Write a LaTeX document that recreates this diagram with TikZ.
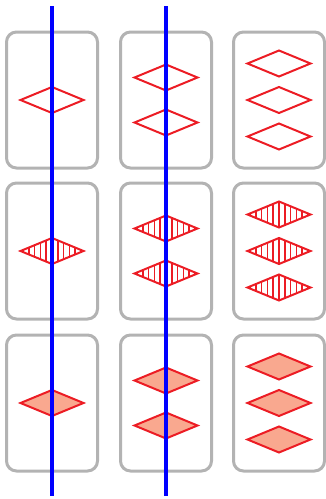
\documentclass[tikz,border=0pt]{standalone}
\definecolor{Card}{HTML}{B3B3B3}
\definecolor{Shape}{HTML}{EC1C24}
\definecolor{Shade}{HTML}{F9A88F}
\definecolor{Cut}{HTML}{0000FF}
\newcommand{\gem}[3]{%
  \ifnum#3=2
    \fill[Shade] ({#1-31.5},{#2}) -- ({#1},{#2-13}) -- ({#1+31.5},{#2}) -- ({#1},{#2+13}) -- cycle;
  \fi
  \ifnum#3=1
    \begin{scope}
      \clip ({#1-31.5},{#2}) -- ({#1},{#2-13}) -- ({#1+31.5},{#2}) -- ({#1},{#2+13}) -- cycle;
      \foreach \k in {-5,...,5}
        \draw[Shape,line width=1.6] ({#1+5.8*\k},{#2-13}) -- ({#1+5.8*\k},{#2+13});
    \end{scope}
  \fi
  \draw[Shape,line width=2] ({#1-31.5},{#2}) -- ({#1},{#2-13}) -- ({#1+31.5},{#2}) -- ({#1},{#2+13}) -- cycle;
}
\newcommand{\stack}[4]{%
  \ifcase#3\or
    \gem{#1}{#2}{#4}
  \or
    \gem{#1}{#2-22.5}{#4}
    \gem{#1}{#2+22.5}{#4}
  \or
    \gem{#1}{#2-36.5}{#4}
    \gem{#1}{#2}{#4}
    \gem{#1}{#2+36.5}{#4}
  \fi
}

\begin{document}
\begin{tikzpicture}[x=1pt,y=-1pt,
  card/.style={draw=Card,line width=3pt,rounded corners=10pt,
    minimum width=91pt,minimum height=136pt,inner sep=0pt}]
\path[use as bounding box] (0,0) rectangle (326,499);
\foreach \col/\cx in {1/52,2/166,3/279}{
  \foreach \row/\cy in {1/100,2/251,3/403}{
    \node[card] (card-\col-\row) at (\cx,\cy) {};
    \pgfmathtruncatemacro{\kind}{\row-1}
    \stack{\cx}{\cy}{\col}{\kind}
  }
}
\draw[Cut,line width=4pt] (52,6) -- (52,496);
\draw[Cut,line width=4pt] (166,6) -- (166,496);
\end{tikzpicture}
\end{document}
